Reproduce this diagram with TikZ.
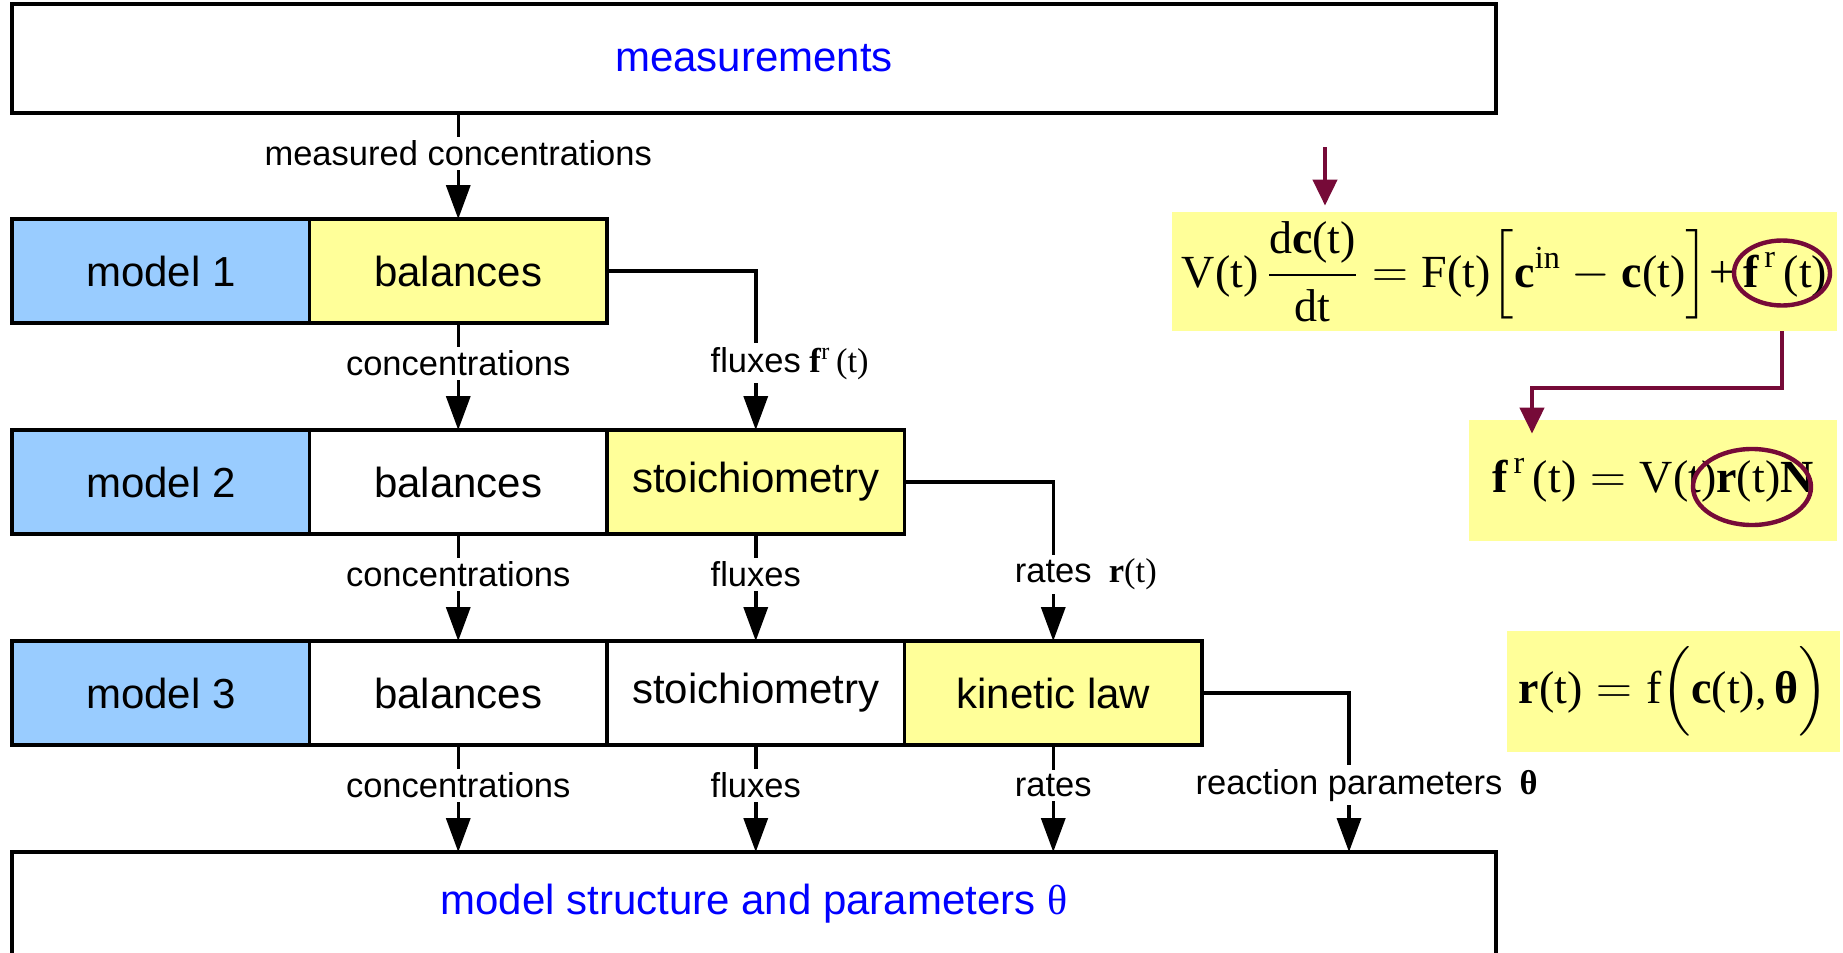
\documentclass[tikz,border=0pt]{standalone}
\usepackage{amsmath}
\usepackage{fontspec}
\setmainfont{Liberation Sans}
\newfontfamily\eqfont{Liberation Serif}
\usetikzlibrary{arrows.meta,positioning,shapes.geometric}
\definecolor{modelblue}{HTML}{99CCFF}
\definecolor{hilite}{HTML}{FFFF99}
\definecolor{wine}{HTML}{760A38}
\definecolor{titleblue}{HTML}{0000FF}

\begin{document}
\begin{tikzpicture}[x=.5pt,y=-.5pt,node distance=53.5pt,
 cell/.style={draw,line width=1.75pt,outer sep=0pt,inner sep=0pt,minimum width=148.75pt,
 minimum height=52pt,font=\fontsize{21}{25}\selectfont},
 model/.style={cell,fill=modelblue},
 hot/.style={cell,fill=hilite},
 frame/.style={draw,line width=1.75pt,outer sep=0pt,minimum width=742pt,
 text=titleblue,font=\fontsize{21}{25}\selectfont},
 lbl/.style={fill=white,inner sep=2pt,font=\fontsize{17.25}{20}\selectfont},
 eqbox/.style={fill=hilite,inner sep=0pt,font=\eqfont\fontsize{23}{28}\selectfont},
 ring/.style={ellipse,draw=wine,line width=2.2pt,inner sep=0pt},
 flow/.style={->,line width=1.75pt},
 wineflow/.style={->,line width=2.2pt,wine,>={Triangle[length=13pt,width=12pt]}},
 >={Triangle[length=17pt,width=12pt]}]
\useasboundingbox (0,0) rectangle (1843,953);
\node[frame,minimum height=54.5pt] (meas) at (754,58.5) {measurements};
\node[model,anchor=north west] (m1) at (12,219) {model 1};
\node[hot,right=0pt of m1] (bal1) {balances};
\node[model,below=of m1] (m2) {model 2};
\node[cell,right=0pt of m2] (bal2) {balances};
\node[hot,right=0pt of bal2] (sto2) {stoichiometry};
\node[model,below=of m2] (m3) {model 3};
\node[cell,right=0pt of m3] (bal3) {balances};
\node[cell,right=0pt of bal3] (sto3) {stoichiometry};
\node[hot,right=0pt of sto3] (kin3) {kinetic law};
\node[frame,minimum height=52pt,below=of m3.south west,anchor=north west] (bot)
 {model structure and parameters {\eqfont θ}};
\path (kin3.east) ++(147,0) coordinate (pk);
\draw[flow] (meas.south -| bal1) -- (bal1) node[lbl,pos=.38] {measured concentrations};
\foreach \s/\t in {bal1/bal2,bal2/bal3}
 \draw[flow] (\s) -- (\t) node[lbl,pos=.38] {concentrations};
\draw[flow] (sto2) -- (sto3) node[lbl,pos=.38] {fluxes};
\foreach \s/\l in {bal3/concentrations,sto3/fluxes,kin3/rates}
 \draw[flow] (\s) -- (\s |- bot.north) node[lbl,pos=.38] {\l};
\draw[flow] (bal1) -| (sto2) node[lbl,pos=.79] {fluxes\rlap{\eqfont\ \textbf{f}\textsuperscript{r}\,(t)}};
\draw[flow] (sto2) -| (kin3) node[lbl,pos=.79] {rates\rlap{\eqfont\ \ \textbf{r}(t)}};
\draw[flow] (kin3) -| (pk |- bot.north) node[lbl,pos=.79] {reaction parameters\rlap{\eqfont\ \ \textbf{θ}}};
\node[eqbox,minimum width=332.5pt,minimum height=59.5pt] (eq1) at (1504.5,271.5)
 {$\text{V(t)}\,\dfrac{\text{d\textbf{c}(t)}}{\text{dt}} = \text{F(t)}\Bigl[\textbf{c}^{\text{in}} - \textbf{c}\text{(t)}\Bigr]\text{+}\,\textbf{f}^{\,\text{r}}\text{\,(t)}$};
\node[eqbox,minimum width=184pt,minimum height=60.5pt] (eq2) at (1653,480.5)
 {$\textbf{f}^{\,\text{r}}\text{\,(t)} = \text{V(t)}\textbf{r}\text{(t)}\textbf{N}$};
\node[eqbox,minimum width=166.5pt,minimum height=60.5pt] (eq3) at (1673.5,691.5)
 {$\textbf{r}\text{(t)} = \text{f}\Bigl(\textbf{c}\text{(t),\,}\textbf{θ}\Bigr)$};
\node[ring,minimum width=48pt,minimum height=32.5pt] (ring1) at (1782,273) {};
\node[ring,minimum width=59pt,minimum height=38pt] (ring2) at (1752,487) {};
\coordinate (cin) at (1325,147);
\coordinate (bend) at (1532,388);
\draw[wineflow,shorten >=3pt] (cin) -- (cin |- eq1.north);
\draw[wineflow,shorten >=-7pt] (ring1 |- eq1.south) |- (bend) -- (bend |- eq2.north);
\end{tikzpicture}
\end{document}
